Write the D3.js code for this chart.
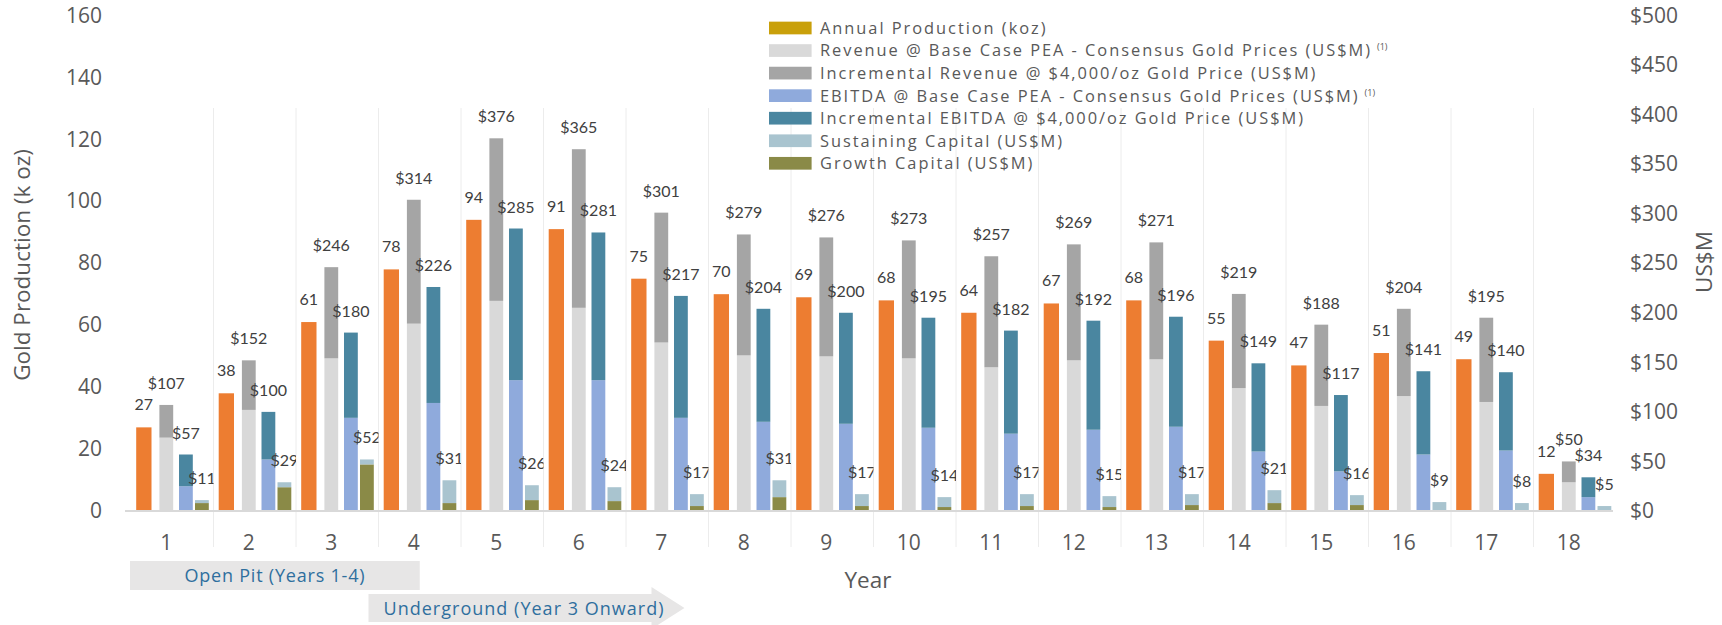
<!DOCTYPE html>
<html>
<head>
<meta charset="utf-8">
<script src="https://cdn.jsdelivr.net/npm/d3@7"></script>
<style>
body { margin: 0; background: #fff; }
svg { display: block; font-family: "Open Sans", sans-serif; }
</style>
</head>
<body>
<script>
// chart data
const years = ["1","2","3","4","5","6","7","8","9","10","11","12","13","14","15","16","17","18"];
const production = [27, 38, 61, 78, 94, 91, 75, 70, 69, 68, 64, 67, 68, 55, 47, 51, 49, 12];
const revenueBase = [74, 102, 154, 189, 212, 205, 170, 157, 156, 154, 145, 152, 153, 124, 106, 116, 110, 29];
const revenueIncr = [33, 50, 92, 125, 164, 160, 131, 122, 120, 119, 112, 117, 118, 95, 82, 88, 85, 21];
const ebitdaBase = [25, 52, 94, 109, 132, 132, 94, 90, 88, 84, 78, 82, 85, 60, 40, 57, 61, 14];
const ebitdaIncr = [32, 48, 86, 117, 153, 149, 123, 114, 112, 111, 104, 110, 111, 89, 77, 84, 79, 20];
const growthCapital = [8, 24, 47, 8, 11, 10, 5, 14, 5, 4, 5, 4, 6, 8, 6, 1, 0, 0];
const sustainingCapital = [3, 5, 5, 23, 15, 14, 12, 17, 12, 10, 12, 11, 11, 13, 10, 8, 8, 5];

const leftTicks = [0, 20, 40, 60, 80, 100, 120, 140, 160];
const rightTicks = [0, 50, 100, 150, 200, 250, 300, 350, 400, 450, 500];

const legendLabels = [
    "Annual Production (koz)",
    "Revenue @ Base Case PEA - Consensus Gold Prices (US$M)",
    "Incremental Revenue @ $4,000/oz Gold Price (US$M)",
    "EBITDA @ Base Case PEA - Consensus Gold Prices (US$M)",
    "Incremental EBITDA @ $4,000/oz Gold Price (US$M)",
    "Sustaining Capital (US$M)",
    "Growth Capital (US$M)"
];
const legendNotes = ["", "(1)", "", "(1)", "", "", ""];
const legendColors = ["#c9a00a", "#d9d9d9", "#a5a5a5", "#8faadc", "#4a86a0", "#a9c4cf", "#8a8a47"];

const colors = {
    prod: "#ed7d31",
    revBase: "#d9d9d9", revIncr: "#a5a5a5",
    ebitdaBase: "#8faadc", ebitdaIncr: "#4a86a0",
    growth: "#8a8a47", sustaining: "#a9c4cf"
};

// SVG size
const width = 1722;
const height = 625;

const svg = d3.select("body")
    .append("svg")
    .attr("width", width)
    .attr("height", height);

const rows = years.map((y, i) => ({
    year: y,
    prod: production[i],
    revBase: revenueBase[i], revIncr: revenueIncr[i],
    ebitdaBase: ebitdaBase[i], ebitdaIncr: ebitdaIncr[i],
    growth: growthCapital[i], sustaining: sustainingCapital[i]
}));

// scales
const x = d3.scaleBand().domain(years).range([131, 1616]);
const bw = x.bandwidth();
// bar offset / width inside one year slot
const slot = { prod: [5.2, 15.3], rev: [28.4, 13.8], ebitda: [48, 13.8], cap: [64, 13.8] };

const yL = d3.scaleLinear().domain([0, 160]).range([511, 15.4]);
const yR = d3.scaleLinear().domain([0, 500]).range([511, 15.4]);

// year separators
svg.append("g")
    .selectAll("line")
    .data(years.slice(1))
    .join("line")
    .attr("x1", d => x(d)).attr("x2", d => x(d))
    .attr("y1", 108).attr("y2", 547)
    .attr("stroke", "#ececec")
    .attr("stroke-width", 1);

// clip for capital labels (they get cut at the year edge)
const defs = svg.append("defs");
years.forEach((y, i) => {
    defs.append("clipPath").attr("id", "clip" + i)
        .append("rect")
        .attr("x", x(y)).attr("y", 0)
        .attr("width", bw).attr("height", height);
});

// production bars
svg.append("g")
    .selectAll("rect")
    .data(rows)
    .join("rect")
    .attr("x", d => x(d.year) + slot.prod[0])
    .attr("width", slot.prod[1])
    .attr("y", d => yL(d.prod))
    .attr("height", d => yL(0) - yL(d.prod))
    .attr("fill", colors.prod);

// stacked bars on the US$M axis
function drawStack(keys, pos) {
    const series = d3.stack().keys(keys)(rows);
    svg.append("g")
        .selectAll("g")
        .data(series)
        .join("g")
        .attr("fill", s => colors[s.key])
        .selectAll("rect")
        .data(s => s)
        .join("rect")
        .attr("x", d => x(d.data.year) + pos[0])
        .attr("width", pos[1])
        .attr("y", d => yR(d[1]))
        .attr("height", d => yR(d[0]) - yR(d[1]));
}
drawStack(["revBase", "revIncr"], slot.rev);
drawStack(["ebitdaBase", "ebitdaIncr"], slot.ebitda);
drawStack(["growth", "sustaining"], slot.cap);

// X axis
const gx = svg.append("g")
    .attr("transform", "translate(0," + yL(0) + ")")
    .call(d3.axisBottom(x).tickSize(0).tickSizeOuter(0).tickPadding(24));
gx.select(".domain").remove();
gx.append("line")
    .attr("x1", x.range()[0] - 6).attr("x2", x.range()[1] - 3)
    .attr("stroke", "#d9d9d9").attr("stroke-width", 2);
gx.selectAll("text")
    .attr("dx", -6)
    .style("font-family", "Open Sans")
    .style("font-size", "21px")
    .style("fill", "#595959");

// Y axis (left)
const gl = svg.append("g")
    .attr("transform", "translate(102,0)")
    .call(d3.axisLeft(yL).tickValues(leftTicks).tickSize(0).tickPadding(0));
gl.select(".domain").remove();
gl.selectAll("text")
    .style("font-family", "Open Sans")
    .style("font-size", "21px")
    .style("fill", "#595959");

// Y axis (right)
const gr = svg.append("g")
    .attr("transform", "translate(1630,0)")
    .call(d3.axisRight(yR).tickValues(rightTicks).tickSize(0).tickPadding(0).tickFormat(d => "$" + d));
gr.select(".domain").remove();
gr.selectAll("text")
    .style("font-family", "Open Sans")
    .style("font-size", "21px")
    .style("fill", "#595959");

// data labels
const labels = svg.append("g")
    .style("font-family", "Lato")
    .style("font-size", "16px")
    .attr("fill", "#404040")
    .attr("text-anchor", "middle");

labels.selectAll(".lp")
    .data(rows)
    .join("text")
    .attr("x", d => x(d.year) + slot.prod[0] + slot.prod[1] / 2)
    .attr("y", d => yL(d.prod) - 17)
    .text(d => d.prod);

labels.selectAll(".lr")
    .data(rows)
    .join("text")
    .attr("x", d => x(d.year) + slot.rev[0] + slot.rev[1] / 2)
    .attr("y", d => yR(d.revBase + d.revIncr) - 16)
    .text(d => "$" + (d.revBase + d.revIncr));

labels.selectAll(".le")
    .data(rows)
    .join("text")
    .attr("x", d => x(d.year) + slot.ebitda[0] + slot.ebitda[1] / 2)
    .attr("y", d => yR(d.ebitdaBase + d.ebitdaIncr) - 16)
    .text(d => "$" + (d.ebitdaBase + d.ebitdaIncr));

labels.selectAll(".lc")
    .data(rows)
    .join("text")
    .attr("clip-path", (d, i) => "url(#clip" + i + ")")
    .attr("x", d => x(d.year) + slot.cap[0] + slot.cap[1] / 2)
    .attr("y", d => yR(d.growth + d.sustaining) - 16)
    .text(d => "$" + (d.growth + d.sustaining));

// axis titles
svg.append("text")
    .attr("transform", "translate(22,265) rotate(-90)")
    .attr("text-anchor", "middle").attr("dy", "0.35em")
    .style("font-size", "22.5px").attr("fill", "#595959")
    .text("Gold Production (k oz)");

svg.append("text")
    .attr("transform", "translate(1704,262) rotate(-90)")
    .attr("text-anchor", "middle").attr("dy", "0.35em")
    .style("font-size", "22.5px").attr("fill", "#595959")
    .text("US$M");

svg.append("text")
    .attr("x", 868).attr("y", 580)
    .attr("text-anchor", "middle").attr("dy", "0.35em")
    .style("font-size", "22.5px").attr("fill", "#595959")
    .text("Year");

// widen a text with letter spacing so it spans the wanted width
function fitWidth(sel, target) {
    const node = sel.node();
    const w = node.getComputedTextLength();
    const n = node.textContent.length;
    const ls = (target - w) / n;
    sel.style("letter-spacing", ls.toFixed(3) + "px");
    return ls;
}

// legend
const legend = svg.append("g").attr("transform", "translate(769,0)");
const items = legend.selectAll("g")
    .data(legendLabels)
    .join("g")
    .attr("transform", (d, i) => "translate(0," + (28 + i * 22.55) + ")");
items.append("rect")
    .attr("x", 0).attr("y", -6.35)
    .attr("width", 42.6).attr("height", 12.7)
    .attr("fill", (d, i) => legendColors[i]);
const ltext = items.append("text")
    .attr("x", 51).attr("dy", "0.36em")
    .attr("fill", "#595959")
    .style("font-size", "16.4px");
ltext.append("tspan").attr("class", "main").text(d => d);

const ls = fitWidth(ltext.filter((d, i) => i === 4).select("tspan"), 485);
ltext.selectAll("tspan.main").style("letter-spacing", ls.toFixed(3) + "px");
ltext.filter((d, i) => legendNotes[i] !== "")
    .append("tspan")
    .attr("dx", 5).attr("dy", -6)
    .style("font-size", "9px")
    .text(d => legendNotes[legendLabels.indexOf(d)]);

// mining phase annotations
const phaseColor = "#2f6f9e";
const boxX0 = x("1") - 1, boxX1 = x("4") + bw / 2;
svg.append("rect")
    .attr("x", boxX0).attr("y", 561)
    .attr("width", boxX1 - boxX0).attr("height", 29)
    .attr("fill", "#e7e6e6");
const opText = svg.append("text")
    .attr("x", (boxX0 + boxX1) / 2).attr("y", 576)
    .attr("text-anchor", "middle").attr("dy", "0.35em")
    .attr("fill", phaseColor)
    .style("font-size", "18px")
    .text("Open Pit (Years 1-4)");
fitWidth(opText, 181);

const ax0 = x("3") + bw - 10, ax1 = ax0 + 283, tip = ax1 + 33;
svg.append("path")
    .attr("d", `M${ax0},594 H${ax1} V587 L${tip},608 L${ax1},629 V622 H${ax0} Z`)
    .attr("fill", "#e7e6e6");
const ugText = svg.append("text")
    .attr("x", ax0 + 15).attr("y", 609)
    .attr("dy", "0.35em")
    .attr("fill", phaseColor)
    .style("font-size", "18px")
    .text("Underground (Year 3 Onward)");
fitWidth(ugText, 281);
</script>
</body>
</html>
